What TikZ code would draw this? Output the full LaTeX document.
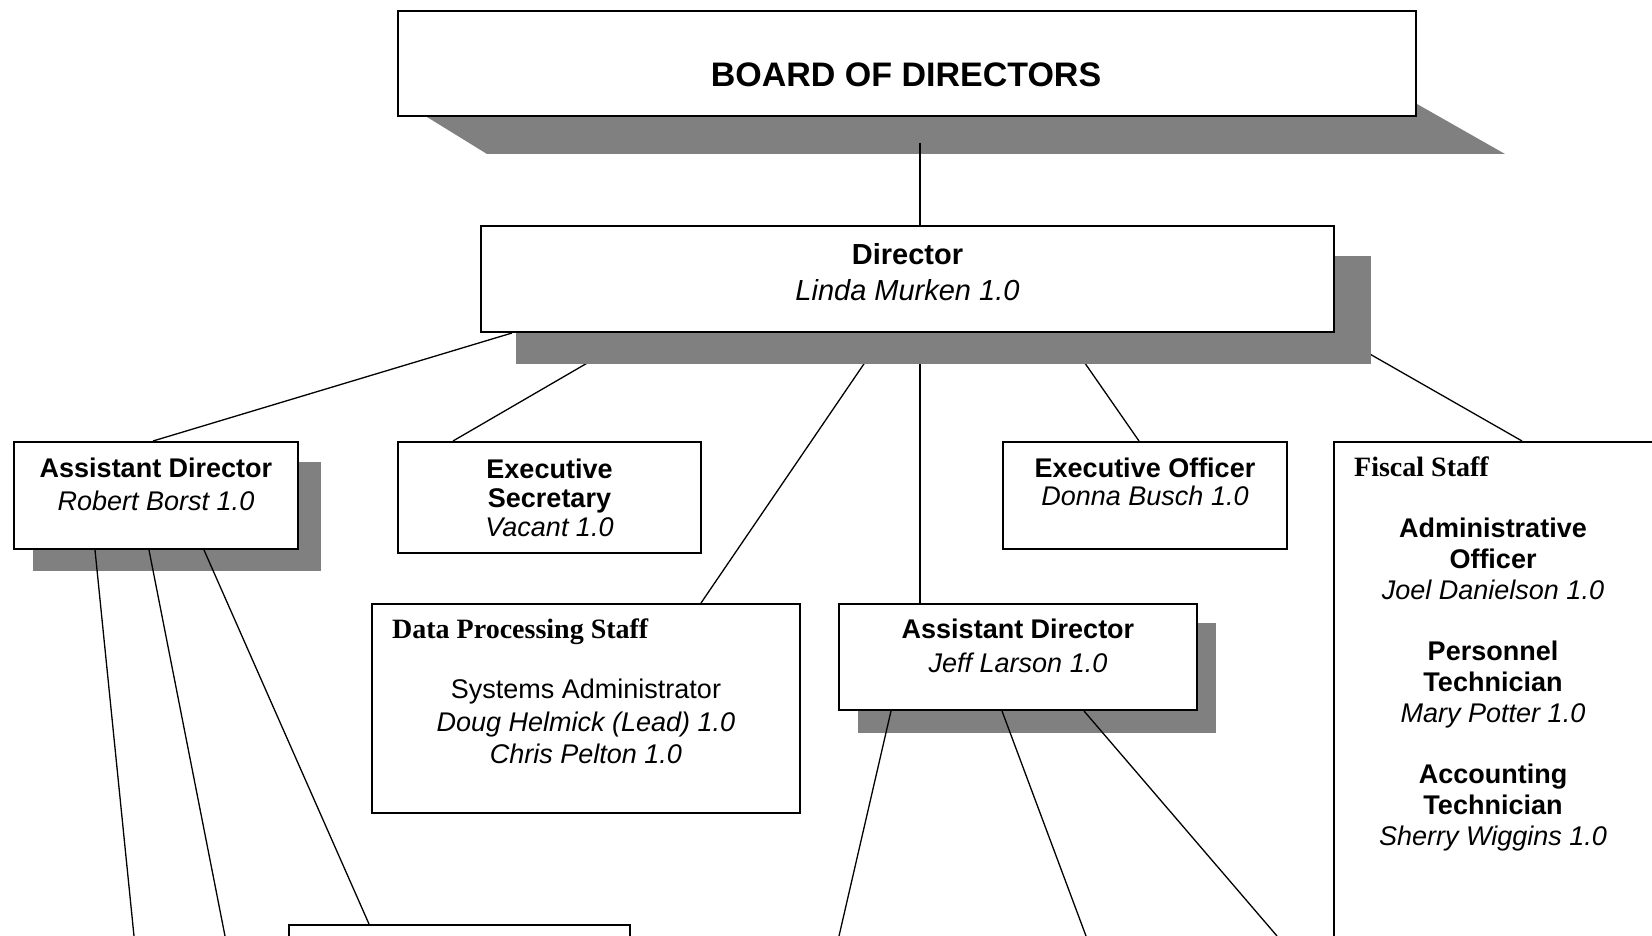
\documentclass[tikz,border=0pt]{standalone}
\usepackage{fontspec}
\setmainfont{Liberation Sans}
\newfontfamily\staffserif{Liberation Serif}
\usetikzlibrary{positioning,calc}
\definecolor{shadowgray}{RGB}{128,128,128}
\pgfdeclarelayer{wires}\pgfdeclarelayer{shades}\pgfdeclarelayer{topwires}
\pgfsetlayers{wires,shades,topwires,main}
\tikzset{
  orgbox/.style={draw,line width=2pt,fill=white,rectangle,inner sep=0pt,anchor=north west},
  dropshade/.style={fill=shadowgray},
  wire/.style={line width=1.3pt},
  orgtxt/.style={inner sep=0pt,align=center,anchor=north,font=\fontsize{27}{33}\selectfont},
  stafftitle/.style={inner sep=0pt,anchor=north west,font=\staffserif\bfseries\fontsize{28}{30}\selectfont}
}
\begin{document}
\begin{tikzpicture}[x=1pt,y=-1pt]
\clip (0,0) rectangle (1652,936);
% boxes
\node[orgbox,minimum width=1018pt,minimum height=105pt] (board) at (397,10) {};
\node[orgbox,minimum width=853pt,minimum height=106pt] (dir) at (480,225) {};
\node[orgbox,minimum width=284pt,minimum height=107pt] (borst) at (13,441) {};
\node[orgbox,minimum width=303pt,minimum height=111pt] (execsec) at (397,441) {};
\node[orgbox,minimum width=284pt,minimum height=107pt] (execoff) at (1002,441) {};
\node[orgbox,minimum width=400pt,minimum height=600pt] (fiscal) at (1333,441) {};
\node[orgbox,minimum width=428pt,minimum height=209pt] (dataproc) at (371,603) {};
\node[orgbox,minimum width=358pt,minimum height=106pt] (larson) at (838,603) {};
\node[orgbox,minimum width=341pt,minimum height=60pt] (bunit) at (288,924) {};
% free ends below the page
\coordinate (bodtap) at (920,143);
\coordinate (bdown1) at (134,936);\coordinate (bdown2) at (225,936);
\coordinate (ldown1) at (839,936);\coordinate (ldown2) at (1086,936);\coordinate (ldown3) at (1277,936);
% connectors from the director
\begin{pgfonlayer}{wires}
\fill[white] (0,0) rectangle (1652,936);
\foreach \dx/\to/\tx in {32/borst/140,159/execsec/56,405/dataproc/330,440/larson/82,584/execoff/137,853/fiscal/189}
  {\draw[wire] ([xshift=\dx pt]dir.south west) -- ([xshift=\tx pt]\to.north west);}
\end{pgfonlayer}
% shadows
\begin{pgfonlayer}{shades}
\fill[dropshade] ([xshift=30pt]board.south west) -- ++(60,37) -- ([shift={(88,37)}]board.south east) -- ([shift={(0,-13)}]board.south east) -- cycle;
\fill[dropshade] ([shift={(36,31)}]dir.north west) rectangle ([shift={(36,31)}]dir.south east);
\fill[dropshade] ([shift={(20,21)}]borst.north west) rectangle ([shift={(22,21)}]borst.south east);
\fill[dropshade] ([shift={(20,20)}]larson.north west) rectangle ([shift={(18,22)}]larson.south east);
\end{pgfonlayer}
% connectors over the shadows
\begin{pgfonlayer}{topwires}
\draw[wire] (bodtap) -- (bodtap |- dir.north);
\foreach \dx/\to in {82/bdown1,136/bdown2} {\draw[wire] ([xshift=\dx pt]borst.south west) -- (\to);}
\draw[wire] ([xshift=191pt]borst.south west) -- ([xshift=81pt]bunit.north west);
\foreach \dx/\to in {53/ldown1,164/ldown2,246/ldown3} {\draw[wire] ([xshift=\dx pt]larson.south west) -- (\to);}
\end{pgfonlayer}
% texts
\node[inner sep=0pt,font=\fontsize{34}{40}\selectfont\bfseries] (boardtxt) at (906,75) {BOARD OF DIRECTORS};
\node[orgtxt,font=\fontsize{29}{36}\selectfont,below=18.6pt of dir.north] (dirtxt) {\textbf{Director}\\\textit{Linda Murken 1.0}};
\node[orgtxt,below=17pt of borst.north] (borsttxt) {\textbf{Assistant Director}\\\textit{Robert Borst 1.0}};
\node[orgtxt,font=\fontsize{27}{29}\selectfont,below=17.5pt of execsec.north] (execsectxt) {\textbf{Executive}\\\textbf{Secretary}\\\textit{Vacant 1.0}};
\node[orgtxt,font=\fontsize{27}{28}\selectfont,below=17pt of execoff.north] (execofftxt) {\textbf{Executive Officer}\\\textit{Donna Busch 1.0}};
\node[orgtxt,font=\fontsize{27}{34}\selectfont,below=16pt of larson.north] (larsontxt) {\textbf{Assistant Director}\\\textit{Jeff Larson 1.0}};
\node[stafftitle] (dptitle) at ([xshift=21pt,yshift=-16pt]dataproc.north west) {Data Processing Staff};
\node[orgtxt,font=\fontsize{27}{32.5}\selectfont,below=76pt of dataproc.north] (dptxt) {Systems Administrator\\\textit{Doug Helmick (Lead) 1.0}\\\textit{Chris Pelton 1.0}};
\node[stafftitle] (fisctitle) at ([xshift=21pt,yshift=-16pt]fiscal.north west) {Fiscal Staff};
\node[orgtxt,font=\fontsize{27}{31}\selectfont] (fisctxt) at ([xshift=160pt,yshift=-77pt]fiscal.north west)
  {\textbf{Administrative}\\\textbf{Officer}\\\textit{Joel Danielson 1.0}\\[30pt]
   \textbf{Personnel}\\\textbf{Technician}\\\textit{Mary Potter 1.0}\\[30pt]
   \textbf{Accounting}\\\textbf{Technician}\\\textit{Sherry Wiggins 1.0}};
\end{tikzpicture}
\end{document}
